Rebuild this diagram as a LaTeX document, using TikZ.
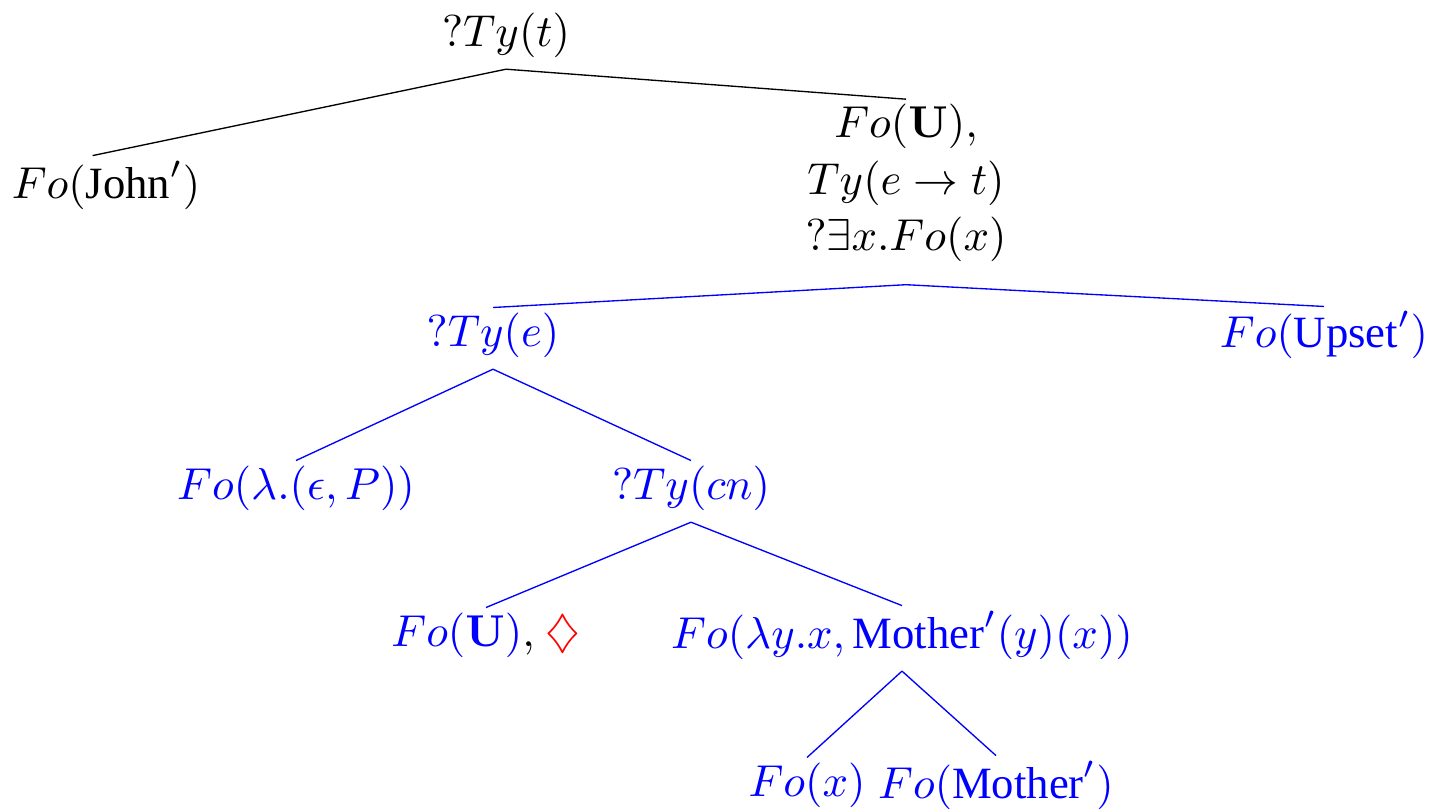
\documentclass[tikz,border=0pt]{standalone}
\usepackage[no-math]{fontspec}
\setmainfont{Liberation Serif}

\begin{document}
\begin{tikzpicture}[x=0.2237pt, y=-0.2237pt, inner sep=1pt, line width=0.3pt,
    bnode/.style={text=blue},
    bedge/.style={draw=blue}]
    \useasboundingbox (0,0) rectangle (1431,812);
    \node (root) at (506,35) {$?Ty(t)$};
    \node (john) at (106,185) {$Fo(\textrm{John}')$};
    \node (pred) [align=center] at (906,183) {$Fo(\mathbf{U}),$\\[0.6pt] $Ty(e\rightarrow t)$\\[0.6pt] $?\exists x.Fo(x)$};
    \node (tye) [bnode] at (493,335) {$?Ty(e)$};
    \node (upset) [bnode] at (1324,335) {$Fo(\textrm{Upset}')$};
    \node (eps) [bnode] at (296,488) {$Fo(\lambda.(\epsilon,P))$};
    \node (tycn) [bnode] at (691,488) {$?Ty(cn)$};
    \node (fou) at (486,635) {$\color{blue}Fo(\mathbf{U})\color{black},$ \textcolor{red}{$\diamondsuit$}};
    \node (mother) [bnode] at (902,635) {$Fo(\lambda y.x,\textrm{Mother}'(y)(x))$};
    \node (fox) [bnode] at (807,785) {$Fo(x)$};
    \node (fom) [bnode] at (996,785) {$Fo(\textrm{Mother}')$};
    \draw ([yshift=-1.5pt]root.south) -- ([xshift=-3pt]john.north);
    \draw ([yshift=-1.5pt]root.south) -- (pred.north);
    \draw[bedge] ([yshift=-4pt]pred.south) -- (tye.north);
    \draw[bedge] ([yshift=-4pt]pred.south) -- (upset.north);
    \draw[bedge] ([yshift=-1.5pt]tye.south) -- (eps.north);
    \draw[bedge] ([yshift=-1.5pt]tye.south) -- (tycn.north);
    \draw[bedge] ([yshift=-1.5pt]tycn.south) -- (fou.north);
    \draw[bedge] ([yshift=-1.5pt]tycn.south) -- (mother.north);
    \draw[bedge] ([yshift=-1.5pt]mother.south) -- (fox.north);
    \draw[bedge] ([yshift=-1.5pt]mother.south) -- (fom.north);
  \end{tikzpicture}
\end{document}
